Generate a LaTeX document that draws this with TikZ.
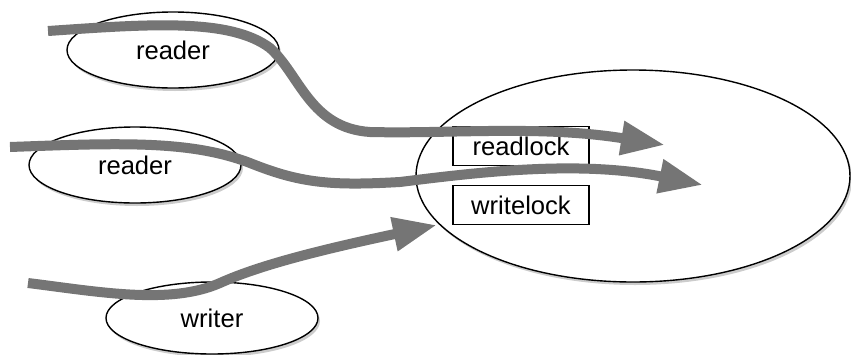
\documentclass[tikz,border=0pt]{standalone}
\usepackage{fontspec}
\setmainfont{Liberation Sans}
\usetikzlibrary{shapes, arrows.meta, shadows}

\begin{document}
\begin{tikzpicture}[x=1pt, y=-1pt,
    font=\fontsize{25.6}{30}\selectfont,
    thread/.style={draw, ellipse, fill=white, line width=1.4pt, inner sep=0pt,
      minimum width=212pt, minimum height=76pt,
      drop shadow={shadow xshift=2pt, shadow yshift=-3pt, opacity=0.4}},
    lockbox/.style={draw, rectangle, fill=white, line width=1.4pt, inner sep=0pt,
      minimum width=136pt, minimum height=39pt},
    flow/.style={draw=black!54, line width=10pt, -{Triangle[length=44pt,width=32pt]}}]
    \useasboundingbox (0,0) rectangle (851,354);

    \node[thread] (R1) at (173,50) {reader};
    \node[thread] (R2) at (135,165) {reader};
    \node[thread, minimum height=72pt] (W) at (212,318) {writer};
    \node[thread, minimum width=434pt, minimum height=212pt] (L) at (633,176) {};

    \node[lockbox] (RL) at (521,146) {readlock};
    \node[lockbox] (WL) at (521,205) {writelock};

    \coordinate (s1) at (48,31);
    \coordinate (s2) at (10,147);
    \coordinate (s3) at (28,283);
    \coordinate (t1) at (665,145);
    \coordinate (t2) at (703,185);
    \coordinate (t3) at (437,225);

    \draw[flow] (s1) .. controls (150,24) and (230,18) .. (270,48)
      .. controls (300,75) and (310,128) .. (370,132)
      .. controls (450,134) and (540,125) .. (t1);
    \draw[flow] (s2) .. controls (120,143) and (190,140) .. (250,163)
      .. controls (300,183) and (330,186) .. (400,182)
      .. controls (480,172) and (580,160) .. (t2);
    \draw[flow] (s3) .. controls (100,292) and (170,305) .. (220,283)
      .. controls (260,265) and (320,250) .. (t3);
\end{tikzpicture}
\end{document}
